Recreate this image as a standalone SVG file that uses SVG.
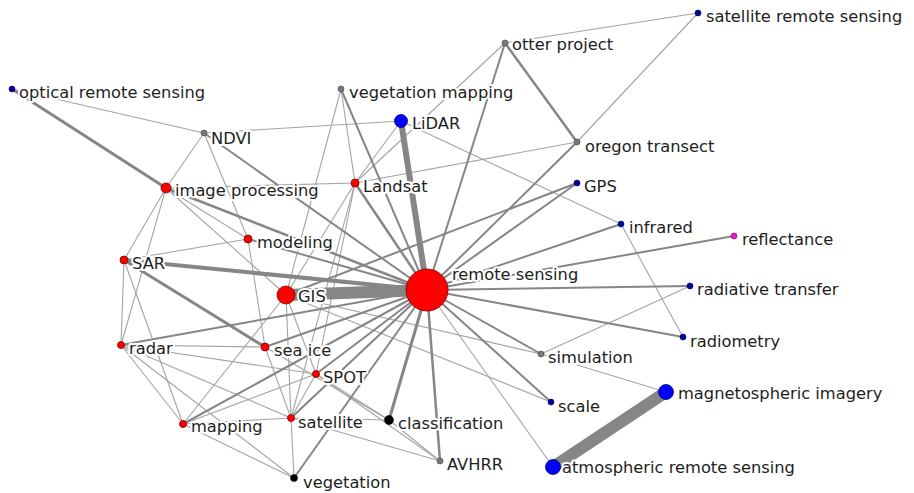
<svg xmlns="http://www.w3.org/2000/svg" width="914" height="493" viewBox="0 0 914 493">
<style>
.t{stroke:#a4a4a4;stroke-width:1.1;fill:none}
.k{stroke:#868686;fill:none}
text{font-family:"DejaVu Sans","Liberation Sans",sans-serif;font-size:16.3px;fill:#1e1e1e;stroke:#fff;stroke-width:4;stroke-linejoin:round;paint-order:stroke}
.red{fill:#ff0000;stroke:#7a0000;stroke-width:0.8}
.bb{fill:#0000ff;stroke:#00007a;stroke-width:0.8}
.bs{fill:#00009a;stroke:#000050;stroke-width:0.6}
.gr{fill:#7a7a7a;stroke:#404040;stroke-width:0.6}
.bk{fill:#000;stroke:#000;stroke-width:0.6}
.mg{fill:#e020c8;stroke:#800070;stroke-width:0.6}
</style>
<rect width="914" height="493" fill="#fff"/>
<g id="edges">
<line class="t" x1="698" y1="13" x2="505" y2="43"/>
<line class="t" x1="698" y1="13" x2="577" y2="142"/>
<line class="t" x1="505" y1="43" x2="355" y2="183"/>
<line class="t" x1="401" y1="121" x2="355" y2="183"/>
<line class="t" x1="401" y1="121" x2="204" y2="133"/>
<line class="t" x1="401" y1="121" x2="621" y2="224"/>
<line class="t" x1="341" y1="89" x2="355" y2="183"/>
<line class="t" x1="341" y1="89" x2="286" y2="295"/>
<line class="t" x1="204" y1="133" x2="12" y2="89"/>
<line class="t" x1="204" y1="133" x2="166" y2="188"/>
<line class="t" x1="204" y1="133" x2="248" y2="239"/>
<line class="t" x1="577" y1="142" x2="355" y2="183"/>
<line class="t" x1="166" y1="188" x2="355" y2="183"/>
<line class="t" x1="166" y1="188" x2="124" y2="260"/>
<line class="t" x1="166" y1="188" x2="121" y2="345"/>
<line class="t" x1="166" y1="188" x2="248" y2="239"/>
<line class="t" x1="166" y1="188" x2="286" y2="295"/>
<line class="t" x1="355" y1="183" x2="286" y2="295"/>
<line class="t" x1="355" y1="183" x2="316" y2="374"/>
<line class="t" x1="355" y1="183" x2="291" y2="418"/>
<line class="t" x1="124" y1="260" x2="248" y2="239"/>
<line class="t" x1="124" y1="260" x2="121" y2="345"/>
<line class="t" x1="124" y1="260" x2="183" y2="424"/>
<line class="t" x1="121" y1="345" x2="265" y2="347"/>
<line class="t" x1="121" y1="345" x2="316" y2="374"/>
<line class="t" x1="121" y1="345" x2="291" y2="418"/>
<line class="t" x1="121" y1="345" x2="183" y2="424"/>
<line class="t" x1="121" y1="345" x2="294" y2="478"/>
<line class="t" x1="248" y1="239" x2="265" y2="347"/>
<line class="t" x1="286" y1="295" x2="291" y2="418"/>
<line class="t" x1="286" y1="295" x2="316" y2="374"/>
<line class="t" x1="286" y1="295" x2="551" y2="402"/>
<line class="t" x1="286" y1="295" x2="541" y2="354"/>
<line class="t" x1="286" y1="295" x2="183" y2="424"/>
<line class="t" x1="265" y1="347" x2="291" y2="418"/>
<line class="t" x1="265" y1="347" x2="389" y2="420"/>
<line class="t" x1="316" y1="374" x2="291" y2="418"/>
<line class="t" x1="316" y1="374" x2="183" y2="424"/>
<line class="t" x1="316" y1="374" x2="389" y2="420"/>
<line class="t" x1="316" y1="374" x2="440" y2="461"/>
<line class="t" x1="291" y1="418" x2="183" y2="424"/>
<line class="t" x1="291" y1="418" x2="389" y2="420"/>
<line class="t" x1="291" y1="418" x2="440" y2="461"/>
<line class="t" x1="291" y1="418" x2="294" y2="478"/>
<line class="t" x1="183" y1="424" x2="294" y2="478"/>
<line class="t" x1="389" y1="420" x2="440" y2="461"/>
<line class="t" x1="621" y1="224" x2="683" y2="337"/>
<line class="t" x1="690" y1="286" x2="541" y2="354"/>
<line class="t" x1="541" y1="354" x2="666" y2="392"/>
<line class="t" x1="427" y1="290" x2="553" y2="467"/>
<line class="k" stroke-width="2" x1="341" y1="89" x2="427" y2="290"/>
<line class="k" stroke-width="2" x1="505" y1="43" x2="427" y2="290"/>
<line class="k" stroke-width="2.5" x1="505" y1="43" x2="577" y2="142"/>
<line class="k" stroke-width="2" x1="577" y1="142" x2="427" y2="290"/>
<line class="k" stroke-width="2" x1="577" y1="183" x2="427" y2="290"/>
<line class="k" stroke-width="2" x1="577" y1="183" x2="286" y2="295"/>
<line class="k" stroke-width="2" x1="621" y1="224" x2="427" y2="290"/>
<line class="k" stroke-width="2" x1="734" y1="236" x2="427" y2="290"/>
<line class="k" stroke-width="2" x1="690" y1="286" x2="427" y2="290"/>
<line class="k" stroke-width="2" x1="683" y1="337" x2="427" y2="290"/>
<line class="k" stroke-width="2" x1="541" y1="354" x2="427" y2="290"/>
<line class="k" stroke-width="2" x1="551" y1="402" x2="427" y2="290"/>
<line class="k" stroke-width="2.5" x1="440" y1="461" x2="427" y2="290"/>
<line class="k" stroke-width="3" x1="389" y1="420" x2="427" y2="290"/>
<line class="k" stroke-width="2" x1="291" y1="418" x2="427" y2="290"/>
<line class="k" stroke-width="2" x1="294" y1="478" x2="427" y2="290"/>
<line class="k" stroke-width="2" x1="316" y1="374" x2="427" y2="290"/>
<line class="k" stroke-width="2" x1="183" y1="424" x2="427" y2="290"/>
<line class="k" stroke-width="2" x1="265" y1="347" x2="427" y2="290"/>
<line class="k" stroke-width="2" x1="121" y1="345" x2="427" y2="290"/>
<line class="k" stroke-width="2" x1="248" y1="239" x2="427" y2="290"/>
<line class="k" stroke-width="2" x1="204" y1="133" x2="427" y2="290"/>
<line class="k" stroke-width="2.5" x1="166" y1="188" x2="427" y2="290"/>
<line class="k" stroke-width="2.5" x1="355" y1="183" x2="427" y2="290"/>
<line class="k" stroke-width="3" x1="12" y1="89" x2="166" y2="188"/>
<line class="k" stroke-width="3" x1="124" y1="260" x2="265" y2="347"/>
<line class="k" stroke-width="4" x1="124" y1="260" x2="427" y2="290"/>
<line class="k" stroke-width="6" x1="401" y1="121" x2="427" y2="290"/>
<line class="k" stroke-width="12" x1="286" y1="295" x2="427" y2="290"/>
<line class="k" stroke-width="12" x1="666" y1="392" x2="553" y2="467"/>
</g>
<g id="n-satellite-remote-sensing"><text x="706" y="22">satellite remote sensing</text><circle class="bs" cx="698" cy="13" r="3"/></g>
<g id="n-otter-project"><text x="512" y="50">otter project</text><circle class="gr" cx="505" cy="43" r="3"/></g>
<g id="n-optical-remote-sensing"><text x="19" y="98">optical remote sensing</text><circle class="bs" cx="12" cy="89" r="3"/></g>
<g id="n-vegetation-mapping"><text x="349" y="98">vegetation mapping</text><circle class="gr" cx="341" cy="89" r="3"/></g>
<g id="n-lidar"><text x="412" y="129">LiDAR</text><circle class="bb" cx="401" cy="121" r="6.5"/></g>
<g id="n-ndvi"><text x="211" y="144">NDVI</text><circle class="gr" cx="204" cy="133" r="3"/></g>
<g id="n-oregon-transect"><text x="585" y="152">oregon transect</text><circle class="gr" cx="577" cy="142" r="3"/></g>
<g id="n-image-processing"><text x="175" y="196">image processing</text><circle class="red" cx="166" cy="188" r="5"/></g>
<g id="n-landsat"><text x="363" y="192">Landsat</text><circle class="red" cx="355" cy="183" r="4"/></g>
<g id="n-gps"><text x="584" y="192">GPS</text><circle class="bs" cx="577" cy="183" r="3"/></g>
<g id="n-infrared"><text x="629" y="233">infrared</text><circle class="bs" cx="621" cy="224" r="3"/></g>
<g id="n-reflectance"><text x="742" y="245">reflectance</text><circle class="mg" cx="734" cy="236" r="3"/></g>
<g id="n-modeling"><text x="257" y="248">modeling</text><circle class="red" cx="248" cy="239" r="4"/></g>
<g id="n-sar"><text x="132" y="269">SAR</text><circle class="red" cx="124" cy="260" r="4"/></g>
<g id="n-radiative-transfer"><text x="697" y="295">radiative transfer</text><circle class="bs" cx="690" cy="286" r="3"/></g>
<g id="n-radiometry"><text x="690" y="347">radiometry</text><circle class="bs" cx="683" cy="337" r="3"/></g>
<g id="n-radar"><text x="129" y="354">radar</text><circle class="red" cx="121" cy="345" r="3.5"/></g>
<g id="n-sea-ice"><text x="274" y="356">sea ice</text><circle class="red" cx="265" cy="347" r="4"/></g>
<g id="n-simulation"><text x="548" y="363">simulation</text><circle class="gr" cx="541" cy="354" r="3"/></g>
<g id="n-spot"><text x="323" y="383">SPOT</text><circle class="red" cx="316" cy="374" r="3.5"/></g>
<g id="n-magnetospheric-imagery"><text x="678" y="399">magnetospheric imagery</text><circle class="bb" cx="666" cy="392" r="7.5"/></g>
<g id="n-scale"><text x="558" y="412">scale</text><circle class="bs" cx="551" cy="402" r="3"/></g>
<g id="n-mapping"><text x="191" y="432">mapping</text><circle class="red" cx="183" cy="424" r="3.5"/></g>
<g id="n-satellite"><text x="298" y="428">satellite</text><circle class="red" cx="291" cy="418" r="3.5"/></g>
<g id="n-classification"><text x="398" y="429">classification</text><circle class="bk" cx="389" cy="420" r="4.5"/></g>
<g id="n-avhrr"><text x="447" y="470">AVHRR</text><circle class="gr" cx="440" cy="461" r="3"/></g>
<g id="n-atmospheric-remote-sensing"><text x="562" y="473">atmospheric remote sensing</text><circle class="bb" cx="553" cy="467" r="7.5"/></g>
<g id="n-vegetation"><text x="303" y="488">vegetation</text><circle class="bk" cx="294" cy="478" r="3.5"/></g>
<g id="n-gis"><text x="298" y="302">GIS</text><circle class="red" cx="286" cy="295" r="9"/></g>
<g id="n-remote-sensing"><text x="452" y="280">remote sensing</text><circle class="red" cx="427" cy="290" r="21"/></g>
</svg>
